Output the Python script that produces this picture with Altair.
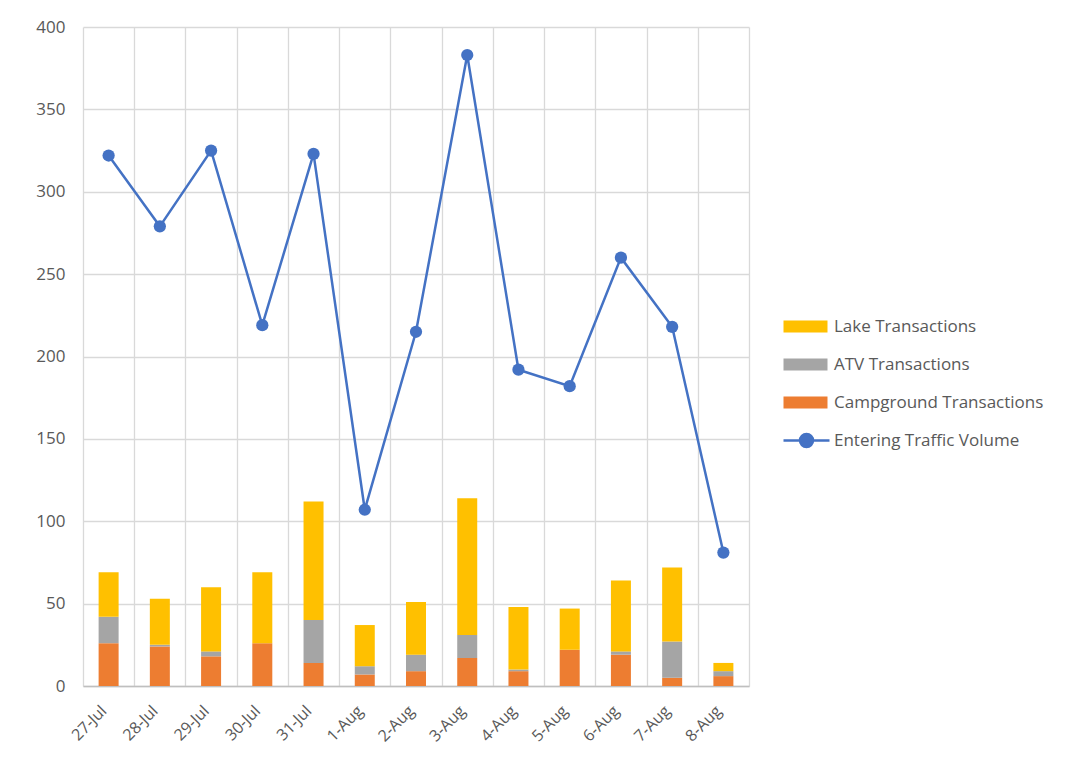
import altair as alt
import pandas as pd

dates = ["27-Jul", "28-Jul", "29-Jul", "30-Jul", "31-Jul", "1-Aug", "2-Aug",
         "3-Aug", "4-Aug", "5-Aug", "6-Aug", "7-Aug", "8-Aug"]
campground = [26, 24, 18, 26, 14, 7, 9, 17, 9, 22, 19, 5, 6]
atv = [16, 1, 3, 0, 26, 5, 10, 14, 1, 0, 2, 22, 3]
lake = [27, 28, 39, 43, 72, 25, 32, 83, 38, 25, 43, 45, 5]
traffic = [322, 279, 325, 219, 323, 107, 215, 383, 192, 182, 260, 218, 81]

series_names = ["Lake Transactions", "ATV Transactions", "Campground Transactions"]
series_colors = ["#FFC000", "#A5A5A5", "#ED7D31"]
line_name = "Entering Traffic Volume"
line_color = "#4472C4"

rows = []
for i, d in enumerate(dates):
    rows.append({"date": d, "series": "Campground Transactions", "value": campground[i], "ord": 0})
    rows.append({"date": d, "series": "ATV Transactions", "value": atv[i], "ord": 1})
    rows.append({"date": d, "series": "Lake Transactions", "value": lake[i], "ord": 2})
bars_df = pd.DataFrame(rows)
line_df = pd.DataFrame({"date": dates, "traffic": traffic})

FONT = "Open Sans"
TXT = "#595959"

x_enc = alt.X("date:N", sort=dates, title=None,
              scale=alt.Scale(type="band", paddingInner=0, paddingOuter=0),
              axis=alt.Axis(labelAngle=315, labelAlign="right", labelBaseline="middle",
                            labelPadding=22, labelOffset=-5, labelFontSize=16,
                            labelColor=TXT, labelFont=FONT, ticks=False,
                            grid=True, gridColor="#D9D9D9", gridWidth=1.3,
                            tickBand="extent", domainColor="#BFBFBF", domainWidth=1.5))

y_scale = alt.Scale(domain=[0, 400], nice=False)

bar_sym = "M-1,-1H6.333V1H-1Z"
line_sym = "M-1,0H6.667M1.75,0A1.083,1.083 0 1,1 3.917,0A1.083,1.083 0 1,1 1.75,0Z"

bars = alt.Chart(bars_df).mark_bar(size=20).encode(
    x=x_enc,
    y=alt.Y("value:Q", stack="zero", scale=y_scale, title=None,
            axis=alt.Axis(values=[0, 50, 100, 150, 200, 250, 300, 350, 400],
                          domain=False, ticks=False, labelPadding=18, labelFontSize=17,
                          labelColor=TXT, labelFont=FONT,
                          gridColor="#D9D9D9", gridWidth=1.3)),
    color=alt.Color("series:N", scale=alt.Scale(domain=series_names, range=series_colors),
                    legend=alt.Legend(title=None, orient="none", legendX=698, legendY=291,
                                      symbolType=bar_sym, symbolSize=144,
                                      symbolStrokeWidth=0, rowPadding=20,
                                      labelOffset=36, labelFontSize=17, labelColor=TXT,
                                      labelFont=FONT, labelLimit=300)),
    order=alt.Order("ord:Q"),
)

line = alt.Chart(line_df).mark_line(strokeWidth=2.5).encode(
    x=alt.X("date:N", sort=dates),
    y=alt.Y("traffic:Q", scale=y_scale),
    stroke=alt.Stroke("name:N", scale=alt.Scale(domain=[line_name], range=[line_color]),
                      legend=alt.Legend(title=None, orient="none", legendX=698, legendY=405,
                                        symbolType=line_sym, symbolSize=144,
                                        symbolStrokeWidth=2.5, symbolFillColor=line_color,
                                        labelOffset=36, labelFontSize=17, labelColor=TXT,
                                        labelFont=FONT, labelLimit=300)),
).transform_calculate(name=f"'{line_name}'")

points = alt.Chart(line_df).mark_point(filled=True, size=150, color=line_color, opacity=1).encode(
    x=alt.X("date:N", sort=dates),
    y=alt.Y("traffic:Q", scale=y_scale),
)

chart = alt.layer(bars, line, points).resolve_scale(color="independent").properties(
    width=666, height=659,
    autosize=alt.AutoSizeParams(type="none"),
    padding={"left": 75, "top": 19, "right": 316, "bottom": 65},
    background="white",
).configure_view(stroke=None)

chart.save("out.html", embed_options={"renderer": "svg", "actions": False})
